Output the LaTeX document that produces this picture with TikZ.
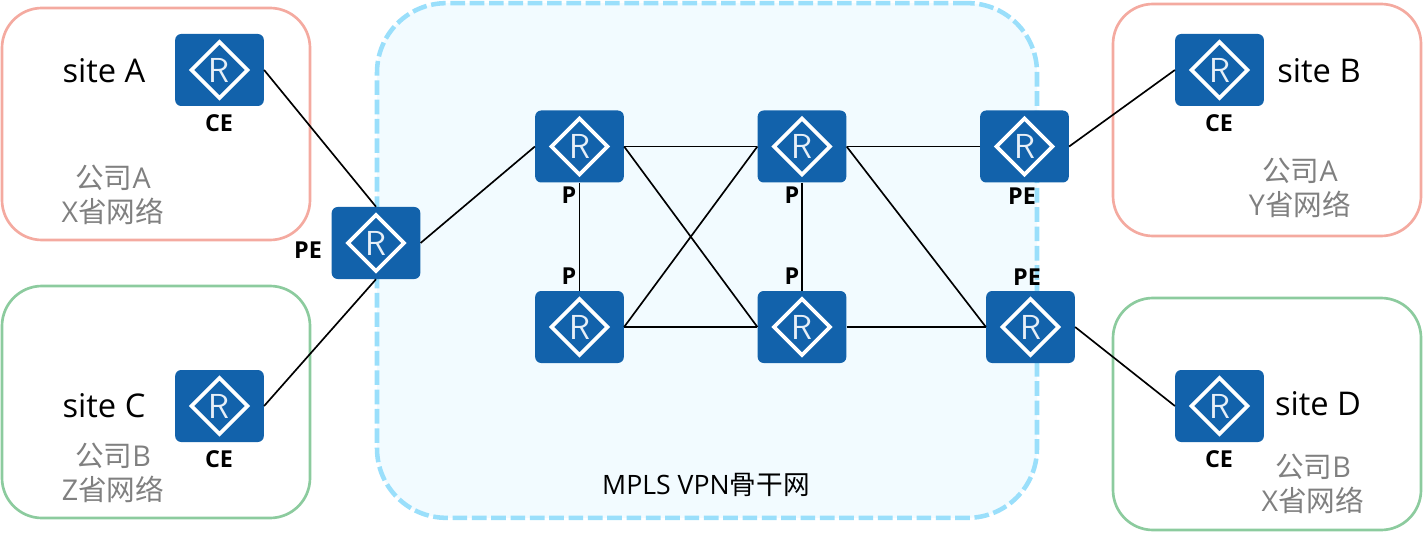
\documentclass[tikz,border=0pt]{standalone}
\usepackage{fontspec}
\setmainfont{Open Sans}
\newfontfamily\cjk{Noto Sans CJK SC}
\usetikzlibrary{positioning}
\definecolor{routerblue}{HTML}{1262AB}
\definecolor{siteredc}{HTML}{F4AAA0}
\definecolor{sitegreenc}{HTML}{8CCB9E}
\definecolor{corelinec}{HTML}{9ADFFB}
\definecolor{corefillc}{HTML}{F2FBFF}
\definecolor{notegray}{HTML}{808080}
\tikzset{
	router/.style={fill=routerblue,rounded corners=4.5pt,minimum width=66.5pt,minimum height=54pt,inner sep=0pt,
		text=white!90!routerblue,font=\fontsize{26}{26}\selectfont\sffamily,
		path picture={
			\draw [white,line width=2.8pt,sharp corners] ([xshift=-21pt]path picture bounding box.center) -- ([yshift=21pt]path picture bounding box.center)
			-- ([xshift=21pt]path picture bounding box.center) -- ([yshift=-21pt]path picture bounding box.center) -- cycle;
		}},
	sitebox/.style={draw=#1,line width=2pt,rounded corners=30pt,minimum width=231pt,minimum height=174pt,inner sep=0pt},
	tag/.style={font=\fontsize{17.5}{17.5}\selectfont\bfseries,inner sep=0pt},
	sitename/.style={font=\fontsize{24.5}{24.5}\selectfont,inner sep=0pt},
	note/.style={font=\fontsize{21.5}{25.5}\selectfont,text=notegray,align=center,inner sep=0pt},
	link/.style={line width=1.25pt}
}
\begin{document}
\begin{tikzpicture}[x=0.75pt,y=-0.75pt]
	\useasboundingbox (0,0) rectangle (1423,538);
	\node [draw=corelinec,fill=corefillc,line width=3.4pt,dash pattern=on 11pt off 3.5pt,rounded corners=52pt,minimum width=495pt,minimum height=386pt,inner sep=0pt] (core) at (707,260.5) {};
	\node [sitebox=siteredc] (boxA) at (156,124) {};
	\node [sitebox=sitegreenc] (boxC) at (156,402) {};
	\node [sitebox=siteredc] (boxB) at (1267,120) {};
	\node [sitebox=sitegreenc] (boxD) at (1267,414) {};

	\node [router] (ceA) at (219.5,70) {R};
	\node [router] (ceC) at (219.5,406) {R};
	\node [router] (ceB) at (1219.5,70) {R};
	\node [router] (ceD) at (1219.5,406) {R};
	\node [router] (peL) at (376,243) {R};
	\node [router] (p1) at (579.5,146.5) {R};
	\node [router] (p2) at (802,146.5) {R};
	\node [router] (p3) at (579.5,327) {R};
	\node [router] (p4) at (802,327) {R};
	\node [router] (peT) at (1024.5,146.5) {R};
	\node [router] (peB) at (1030.5,327) {R};

	\draw [link] (ceA.east) -- (peL.north);
	\draw [link] (ceC.east) -- (peL.south);
	\draw [link] (peL.east) -- (p1.west);
	\draw [link] (p1.east) -- (p2.west);
	\draw [link] (p1.south) -- (p3.north);
	\draw [link] (p1.east) -- (p4.west);
	\draw [link] (p3.east) -- (p2.west);
	\draw [link] (p3.east) -- (p4.west);
	\draw [link] (p2.south) -- (p4.north);
	\draw [link] (p2.east) -- (peT.west);
	\draw [link] (p2.east) -- (peB.west);
	\draw [link] (p4.east) -- (peB.west);
	\draw [link] (peT.east) -- (ceB.west);
	\draw [link] (peB.east) -- (ceD.west);

	\node [tag] (tagA) at (219,123) {CE};
	\node [tag] (tagC) at (219,459) {CE};
	\node [tag] (tagB) at (1219,123) {CE};
	\node [tag] (tagD) at (1219,459) {CE};
	\node [tag] (tagL) at (308,250) {PE};
	\node [tag] (tagT) at (1022,196) {PE};
	\node [tag] (tagE) at (1027,277) {PE};
	\node [tag] (tag1) at (569,195) {P};
	\node [tag] (tag2) at (792,195) {P};
	\node [tag] (tag3) at (569,276) {P};
	\node [tag] (tag4) at (792,276) {P};

	\node [sitename] (nameA) at (104,71) {site A};
	\node [sitename] (nameC) at (104,406) {site C};
	\node [sitename] (nameB) at (1319,71) {site B};
	\node [sitename] (nameD) at (1318,404) {site D};

	\node [note] (noteA) at (113,195) {{\cjk 公司}A\\X{\cjk 省网络}};
	\node [note] (noteC) at (113,473) {{\cjk 公司}B\\Z{\cjk 省网络}};
	\node [note] (noteB) at (1300,188) {{\cjk 公司}A\\Y{\cjk 省网络}};
	\node [note] (noteD) at (1313,484) {{\cjk 公司}B\\X{\cjk 省网络}};
	\node [font=\fontsize{20}{20}\selectfont,inner sep=0pt] (coreName) at (706,485) {MPLS VPN{\cjk 骨干网}};
\end{tikzpicture}
\end{document}
